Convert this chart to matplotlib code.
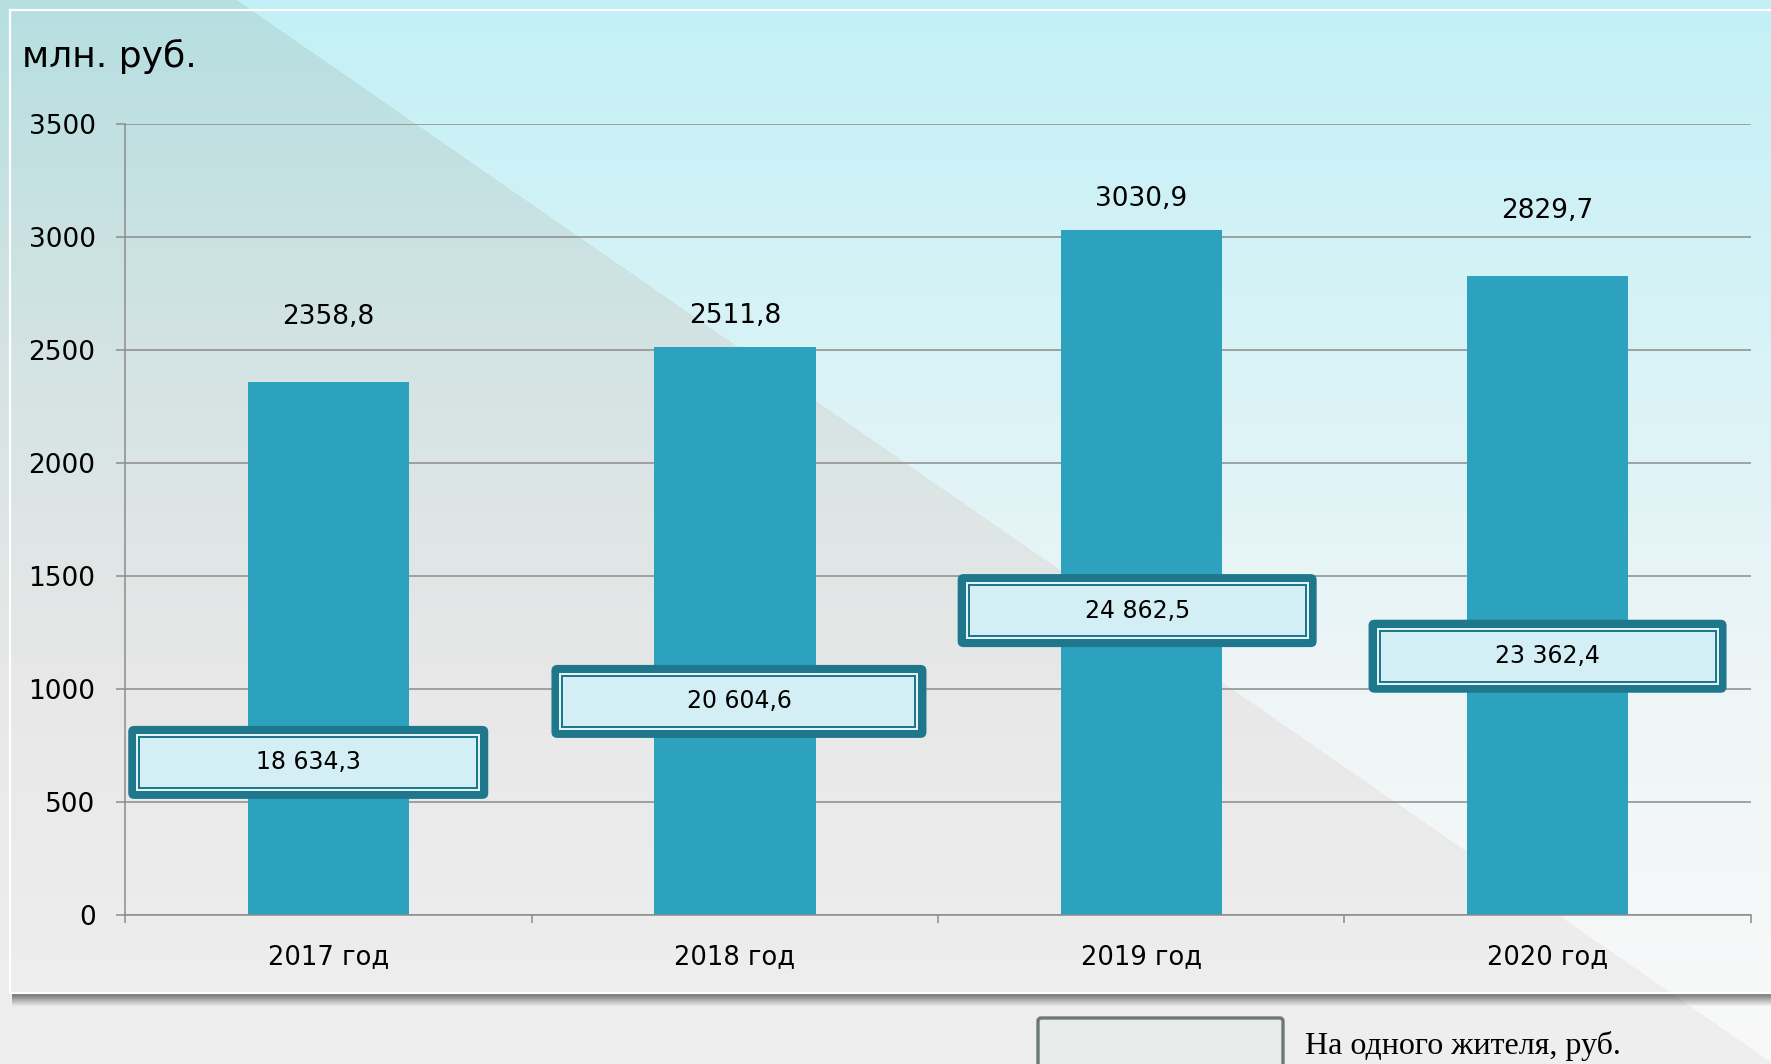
import numpy as np
import matplotlib
matplotlib.use('Agg')
import matplotlib.pyplot as plt
from matplotlib.patches import FancyBboxPatch, Rectangle

years = ['2017 год', '2018 год', '2019 год', '2020 год']
totals = [2358.8, 2511.8, 3030.9, 2829.7]
total_labels = ['2358,8', '2511,8', '3030,9', '2829,7']
per_resident = ['18 634,3', '20 604,6', '24 862,5', '23 362,4']
# label positions (data units)
total_label_y = [2645, 2650, 3170, 3115]
box_x = [-0.05, 1.01, 1.99, 3.0]
box_y = [675, 945, 1347, 1145]
box_w = [360, 375, 359, 358]   # box widths in pixels

W, H = 1771, 1064
BAR = '#2ca2bf'
DARK = '#1f778b'
GRID = '#8c8c8c'


def hex2rgb(h):
    return np.array([int(h[i:i + 2], 16) for i in (1, 3, 5)]) / 255.0


def gradient(cols, stops):
    arr = np.array([hex2rgb(c) for c in cols])
    rows = np.arange(H)
    return np.stack([np.interp(rows, stops, arr[:, k]) for k in range(3)], axis=1)


def background():
    stops = [0, 340, 680, 1064]
    up = gradient(['#c2f0f6', '#d8f3f6', '#eef5f6', '#f9f9f9'], stops)
    lo = gradient(['#b6dfe1', '#d3e3e3', '#e7e8e7', '#efefef'], stops)
    yy, xx = np.mgrid[0:H, 0:W]
    mask = yy > (xx - 237) * 1062.0 / 1534.0
    img = np.where(mask[..., None], lo[:, None, :], up[:, None, :])
    # drop shadow under the panel
    for r in range(994, 1007):
        f = 0.5 + 0.5 * (r - 994) / 12.0
        img[r, 12:] *= f
    return np.clip(img, 0, 1)


fig = plt.figure(figsize=(W / 100, H / 100), dpi=100)
fig.patch.set_facecolor('white')

bg = fig.add_axes([0, 0, 1, 1], zorder=-10)
bg.imshow(background(), extent=(0, W, H, 0), aspect='auto', interpolation='bilinear')
bg.plot([10, W], [10, 10], color='white', lw=1.6)
bg.plot([10, 10], [10, 993], color='white', lw=1.6)
bg.plot([10, W], [993, 993], color='white', lw=1.6)
bg.add_patch(FancyBboxPatch((1038, 1018), 245, 70, boxstyle='round,pad=0,rounding_size=3',
                            fc='#e9ebea', ec='#6b7873', lw=2.4))
bg.set_xlim(0, W)
bg.set_ylim(H, 0)
bg.axis('off')

fig.text(22 / W, 1 - 67 / H, 'млн. руб.', fontsize=26, va='baseline', ha='left')
fig.text(1305 / W, 1 - 1054 / H, 'На одного жителя, руб.', fontsize=23,
         family='Liberation Serif', va='baseline', ha='left')

left, right, top, bottom = 125.4, 1750.7, 124.2, 914.9
ax = fig.add_axes([left / W, 1 - bottom / H, (right - left) / W, (bottom - top) / H])
ax.set_facecolor('none')
ax.set_xlim(-0.5, 3.5)
ax.set_ylim(0, 3500)

x = np.arange(len(years))
ax.bar(x, totals, width=0.397, color=BAR, zorder=2)

ax.set_yticks(range(0, 3501, 500))
ax.yaxis.grid(True, color=GRID, lw=1.1)
ax.set_axisbelow(True)
ax.tick_params(axis='y', length=6.5, width=1.1, color=GRID, pad=15, labelsize=19)
ax.set_xticks(x)
ax.set_xticklabels(years, fontsize=18.5)
ax.set_xticks(np.arange(-0.5, 4.0, 1.0), minor=True)
ax.tick_params(axis='x', which='major', length=0, pad=21)
ax.tick_params(axis='x', which='minor', length=6, width=1.1, color=GRID)
for s in ['top', 'right']:
    ax.spines[s].set_visible(False)
for s in ['left', 'bottom']:
    ax.spines[s].set_color(GRID)
    ax.spines[s].set_linewidth(1.1)

for i, lab in enumerate(total_labels):
    ax.text(x[i], total_label_y[i], lab, ha='center', va='center', fontsize=19, zorder=5)

# boxes with per-resident values, sized in pixels
px_x = 4.0 / (right - left)
px_y = 3500.0 / (bottom - top)
bh = 73
for cx, cy, bw, lab in zip(box_x, box_y, box_w, per_resident):
    ax.add_patch(FancyBboxPatch((cx - bw / 2 * px_x, cy - bh / 2 * px_y), bw * px_x, bh * px_y,
                                boxstyle='round,pad=0,rounding_size=%f' % (6 * px_x),
                                mutation_aspect=px_y / px_x, fc=DARK, ec='none', zorder=4))
    for inset, c in [(8, '#e2f4f8'), (10, DARK), (12, '#d4eef5')]:
        ax.add_patch(Rectangle((cx - (bw / 2 - inset) * px_x, cy - (bh / 2 - inset) * px_y),
                               (bw - 2 * inset) * px_x, (bh - 2 * inset) * px_y,
                               fc=c, ec='none', zorder=4))
    ax.text(cx, cy, lab, ha='center', va='center', fontsize=17, zorder=5)

fig.savefig('out.png', dpi=100)
